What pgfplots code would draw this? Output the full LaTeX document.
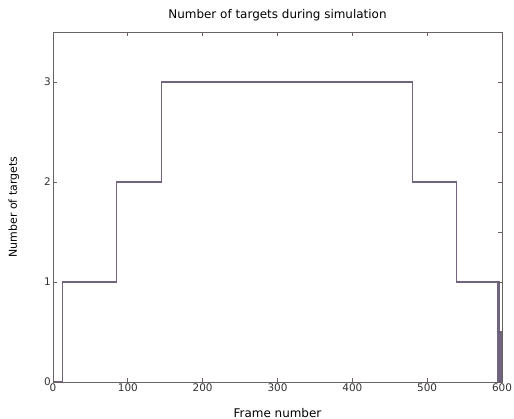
\documentclass[border=0pt]{standalone}
\usepackage{pgfplots}
\pgfplotsset{compat=1.18}
\usepackage{fontspec}
\setmainfont{DejaVu Sans}
\definecolor{linec}{RGB}{112,100,126}
\definecolor{axc}{RGB}{105,98,98}
\begin{document}
\begin{tikzpicture}
\useasboundingbox (-53bp,-37bp) rectangle (461bp,382bp);
\begin{axis}[
  at={(0,0)}, anchor=south west,
  scale only axis, width=449bp, height=350bp,
  xmin=0, xmax=600, ymin=0, ymax=3.5,
  xtick={0,100,...,600}, ytick={0,1,2,3},
  tick align=inside,
  xtick pos=both, ytick pos=left,
  axis line style={axc, line width=0.9pt},
  major tick length=4bp,
  tick style={axc, line width=0.8pt},
  tick label style={font=\fontsize{10.5}{12}\selectfont, text=black!80},
  /pgf/number format/assume math mode=true,
  every axis title shift=0pt,
  title={Number of targets during simulation},
  title style={font=\fontsize{12}{13}\selectfont, at={(axis description cs:0.5,1.049)}, anchor=center, yshift=0pt},
  xlabel={Frame number}, ylabel={Number of targets},
  xlabel style={font=\fontsize{12}{13}\selectfont, at={(axis description cs:0.5,-0.089)}, anchor=center},
  ylabel style={font=\fontsize{11}{12}\selectfont, at={(axis description cs:-0.087,0.5)}, anchor=center},
  yticklabel style={inner xsep=2pt},
  xticklabel style={yshift=2bp},
]
\addplot[linec, line width=1.3pt, const plot] coordinates {
(0,0) (13,1) (85,2) (145,3) (480,2) (539,1) (594,0) (596,1) (597,0) (598,0.5) (599,0) (600,0)
};
\end{axis}
\begin{axis}[
  at={(0,0)}, anchor=south west,
  scale only axis, width=449bp, height=350bp,
  xmin=0, xmax=600, ymin=0, ymax=3.5,
  axis x line=none, axis y line*=right,
  axis line style={axc, line width=0.9pt},
  ytick={0.5,1,...,3}, yticklabels={},
  tick align=inside, major tick length=4bp,
  tick style={axc, line width=0.8pt},
]
\end{axis}
\end{tikzpicture}
\end{document}
